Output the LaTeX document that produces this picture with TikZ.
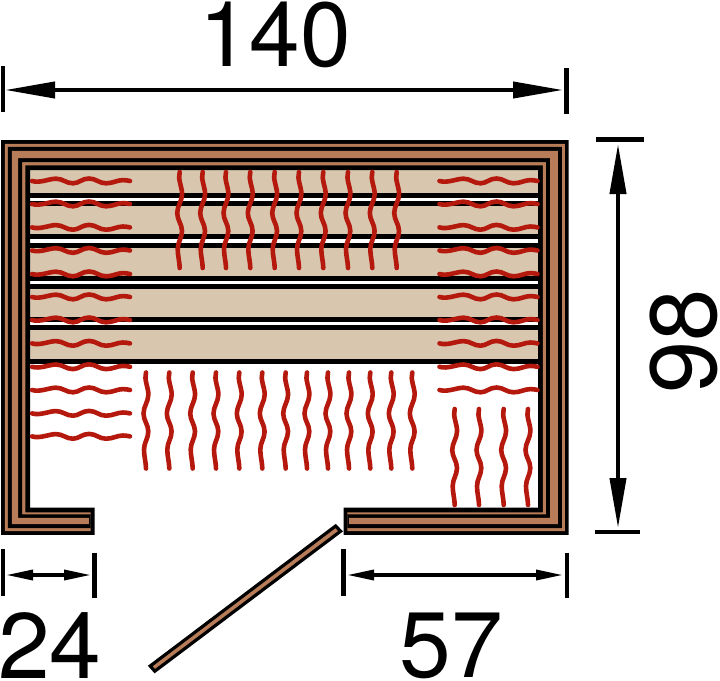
\documentclass[tikz,border=0pt]{standalone}
\usepackage{fontspec}
\setmainfont{TeX Gyre Heros}
\usetikzlibrary{arrows.meta}
\definecolor{wood}{HTML}{B87D58}
\definecolor{bench}{HTML}{D8C7AE}
\definecolor{heat}{HTML}{B5190E}
\tikzset{
  x=1pt,y=-1pt,
  wave/.style={draw=heat,line width=4.6pt,line cap=round,line join=round},
  benchline/.style={draw=black,line width=5pt},
  tickmark/.style={draw=black,line width=4.4pt},
  bigdim/.style={draw=black,line width=4pt,{Triangle[length=50pt,width=16pt,sep=0pt]}-{Triangle[length=50pt,width=16pt,sep=0pt]}},
  smalldim/.style={draw=black,line width=3.4pt,{Triangle[length=27pt,width=10pt]}-{Triangle[length=27pt,width=10pt]}},
  dimlabel/.style={inner sep=0pt,text=black},
  doorleaf/.style={fill=wood,draw=black,line width=3.2pt,line join=miter},
}
% wall layer: outer inset, inner inset, bottom inner inset, end inset, colour
\newcommand{\walllayer}[5]{%
  \fill[#5] ({94.5-#4},{534.8-#1}) -- ({1+#1},{534.8-#1}) -- ({1+#1},{140+#1}) -- ({568.6-#1},{140+#1})
    -- ({568.6-#1},{534.8-#1}) -- ({343.5+#4},{534.8-#1}) -- ({343.5+#4},{507.5+#3})
    -- ({538.2+#2},{507.5+#3}) -- ({538.2+#2},{170-#2}) -- ({30-#2},{170-#2})
    -- ({30-#2},{507.5+#3}) -- ({94.5-#4},{507.5+#3}) -- cycle;}
\newcommand{\hwave}[2]{\draw[wave,shift={(#1,#2)}] (0,0)
  .. controls (8,2.4) and (17,-2.3) .. (24,-2.3)
  .. controls (31,-2.3) and (34,2.3) .. (41,2.3)
  .. controls (47,2.3) and (50,-2.5) .. (57,-2.5)
  .. controls (64,-2.5) and (67,2.3) .. (74,2.3)
  .. controls (81,2.3) and (85,-.9) .. (91,-.9)
  .. controls (94,-.9) and (96,-.4) .. (98,0);}
\newcommand{\vwave}[2]{\draw[wave,shift={(#1,#2)}] (0,0)
  .. controls (-2.2,7) and (2.4,15) .. (2.4,22)
  .. controls (2.4,29) and (-2.5,34) .. (-2.5,41)
  .. controls (-2.5,48) and (2.3,52) .. (2.3,59)
  .. controls (2.3,66) and (-2,70) .. (-2,77)
  .. controls (-2,84) and (0,90) .. (0,96);}
\begin{document}
\begin{tikzpicture}
\useasboundingbox (0,0) rectangle (720,680);
% benches
\fill[bench] (30,170) rectangle (538.2,359);
\fill[white] (30,197) rectangle (538.2,201.5);
\fill[white] (30,239) rectangle (538.2,243.5);
\fill[white] (30,281) rectangle (538.2,284.5);
\fill[white] (30,322) rectangle (538.2,326);
\foreach \y in {195.3,203.3,236.8,245.3,278.8,286.6,319.9,327.9,361} \draw[benchline] (30,\y) -- (538.2,\y);
% walls
\walllayer{0}{0}{0}{0}{black}
\walllayer{3.8}{4.6}{4.8}{3.8}{wood}
\walllayer{6.8}{7.8}{6.8}{3.8}{black}
\walllayer{10.8}{11.8}{10.4}{5.6}{wood}
% heating
\foreach \y in {181,204,227.4,250.5,274,297,320,343.4,366.8,390,413.4,436.4} {\hwave{32}{\y}}
\foreach \y in {181,204,227.4,250.5,274,297,320,343.4,366.8,390} {\hwave{439.5}{\y}}
\foreach \x in {179.7,202.7,226,250.3,274.7,299,323.3,348,372.3,396.7} {\vwave{\x}{172}}
\foreach \x in {146,169.3,192.7,216,239.3,262.3,285.7,307,328,349,370.3,391.3,412.3} {\vwave{\x}{372.5}}
\foreach \x in {454.7,479,503.7,528} {\vwave{\x}{409}}
% door
\draw[doorleaf] (335.6,526) -- (340.6,531.2) -- (154.8,671.2) -- (150.2,666) -- cycle;
% dimensions
\coordinate (tl) at (3,66); \coordinate (tlb) at (3,112);
\coordinate (tr) at (566.3,68); \coordinate (trb) at (566.3,114);
\coordinate (ta) at (5,90); \coordinate (tb) at (563,90);
\draw[tickmark] (tl) -- (tlb);
\draw[tickmark] (tr) -- (trb);
\draw[bigdim] (ta) -- (tb);
\node[dimlabel,font=\fontsize{91}{91}\selectfont] (w140) at (275,35) {140};
\coordinate (rt1) at (596,139.3); \coordinate (rt2) at (643.5,139.3);
\coordinate (rb1) at (595,532); \coordinate (rb2) at (640,532);
\coordinate (ra) at (618,144); \coordinate (rb) at (618,528);
\draw[tickmark] (rt1) -- (rt2);
\draw[tickmark] (rb1) -- (rb2);
\draw[bigdim] (ra) -- (rb);
\node[dimlabel,rotate=90,font=\fontsize{94}{94}\selectfont] (d98) at (684,341) {98};
\coordinate (a1) at (2.7,549); \coordinate (a2) at (2.7,596);
\coordinate (b1) at (94.3,552.5); \coordinate (b2) at (94.3,598);
\coordinate (aa) at (6,575); \coordinate (ab) at (91,575);
\draw[tickmark] (a1) -- (a2);
\draw[tickmark] (b1) -- (b2);
\draw[smalldim] (aa) -- (ab);
\node[dimlabel,font=\fontsize{93}{93}\selectfont] (w24) at (50,646) {24};
\coordinate (c1) at (343.3,549); \coordinate (c2) at (343.3,596);
\coordinate (d1) at (566.8,552.5); \coordinate (d2) at (566.8,598);
\coordinate (ca) at (347,575); \coordinate (cb) at (563,575);
\draw[tickmark] (c1) -- (c2);
\draw[tickmark] (d1) -- (d2);
\draw[smalldim] (ca) -- (cb);
\node[dimlabel,font=\fontsize{93}{93}\selectfont] (w57) at (451,646) {57};
\end{tikzpicture}
\end{document}
